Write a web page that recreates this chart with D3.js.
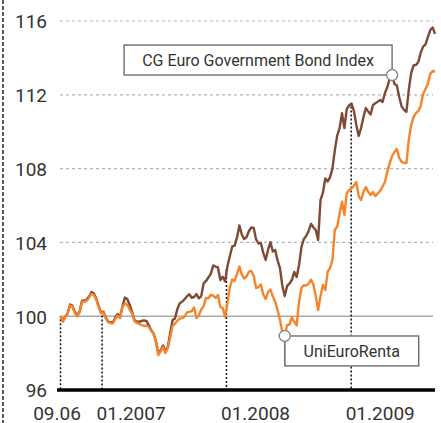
<!DOCTYPE html>
<html>
<head>
<meta charset="utf-8">
<script src="https://cdn.jsdelivr.net/npm/d3@7"></script>
<style>
html,body{margin:0;padding:0;background:#fff;}
svg{display:block;font-family:Roboto,"Noto Sans",sans-serif;}
</style>
</head>
<body>
<svg id="chart" width="441" height="423"></svg>
<script>
// ---- data (weekly, starting 01.09.2006) ----
const startDate = new Date(2006, 8, 1);
const cgIndex = [
100.0,99.74,99.96,100.17,100.63,100.57,100.23,100.04,100.25,100.84,
100.84,100.9,101.07,101.31,101.23,100.96,100.55,100.2,100.24,99.93,
99.71,99.67,99.67,99.93,100.11,99.96,100.55,101.01,100.93,100.61,
100.23,99.79,99.7,99.7,99.74,99.77,99.75,99.52,99.24,99.06,
98.66,98.0,98.15,98.41,98.08,98.33,99.09,99.79,99.88,100.39,
100.7,100.79,100.92,101.07,101.19,101.0,101.04,101.2,100.97,101.09,
101.78,101.91,102.1,102.29,102.75,102.69,102.64,101.96,102.14,101.88,
102.72,103.26,103.78,103.83,104.27,104.92,104.43,104.18,104.29,104.62,
104.81,104.78,104.16,103.94,103.97,103.43,103.05,103.59,104.02,103.51,
103.59,103.02,102.61,101.64,101.09,101.64,101.77,101.96,102.4,102.12,
102.78,103.75,104.18,104.35,104.62,105.01,104.82,104.67,104.13,106.3,
106.68,107.47,107.3,107.54,108.0,109.0,109.79,110.2,111.0,110.2,
111.23,111.42,111.53,111.12,110.36,109.77,110.2,110.8,111.28,111.1,
110.93,111.45,111.54,111.63,111.72,111.61,112.1,112.41,112.88,113.07,
112.59,112.5,111.88,111.37,111.18,111.07,112.26,113.18,113.59,113.62,
113.78,114.27,114.61,114.73,115.13,115.51,115.65,115.3
];
const uniEuroRenta = [
100.0,99.7,99.93,100.13,100.58,100.52,100.18,100.0,100.2,100.78,
100.78,100.84,101.0,101.22,101.15,100.9,100.5,100.15,100.2,99.88,
99.66,99.62,99.62,99.86,100.03,99.9,100.5,100.7,100.61,100.36,
100.15,99.74,99.62,99.58,99.52,99.47,99.5,99.41,99.22,99.06,
98.63,97.9,98.1,98.33,98.0,98.28,98.87,99.47,99.6,99.75,
99.88,99.88,99.98,100.2,100.23,100.28,100.47,99.9,100.04,100.36,
100.55,100.99,100.97,101.15,101.12,100.99,101.15,100.5,100.44,99.96,
100.72,101.58,101.99,101.91,102.29,102.69,102.26,102.04,102.15,102.42,
102.45,102.18,101.53,101.58,101.72,101.18,100.93,101.31,101.45,101.07,
100.8,100.34,99.79,99.14,98.93,99.52,99.55,99.93,99.7,99.5,
100.77,101.53,101.68,101.66,101.77,101.98,101.72,101.09,100.34,101.09,
101.69,101.42,102.42,102.61,103.05,104.67,104.86,105.54,106.21,105.49,
106.68,106.84,106.92,107.06,107.27,106.51,106.3,106.73,107.0,106.73,
106.57,106.73,106.51,106.65,106.79,107.03,107.27,107.82,108.3,108.68,
108.9,109.06,108.57,108.37,108.3,108.3,109.55,110.36,110.8,111.01,
111.12,111.39,112.04,112.31,112.59,113.13,113.29,113.25
];
const yTicks = [96, 100, 104, 108, 112, 116];
const xTickDates = [new Date(2006,8,1), new Date(2007,0,1), new Date(2008,0,1), new Date(2009,0,1)];
const xTickLabels = ["09.06", "01.2007", "01.2008", "01.2009"];
const seriesNames = ["CG Euro Government Bond Index", "UniEuroRenta"];

const dates = cgIndex.map((_, i) => d3.timeDay.offset(startDate, 7 * i));

// ---- chart ----
const svg = d3.select("#chart");
const x = d3.scaleTime().domain([new Date(2006,8,1), new Date(2009,8,1)]).range([60.5, 434]);
const y = d3.scaleLinear().domain([96, 116]).range([390, 21]);

// left dashed border
svg.append("line").attr("x1", 3).attr("x2", 3).attr("y1", 0).attr("y2", 423)
  .attr("stroke", "#555").attr("stroke-width", 2).attr("stroke-dasharray", "4,2");

// grid
const grid = svg.append("g");
yTicks.filter(v => v > 96).forEach(v => {
  grid.append("line").attr("x1", 60).attr("x2", 433)
    .attr("y1", y(v)).attr("y2", y(v))
    .attr("stroke", v === 100 ? "#aaa" : "#b4b4b4")
    .attr("stroke-width", v === 100 ? 1.5 : 1.2)
    .attr("stroke-dasharray", v === 100 ? null : "3,3");
});

// y labels
const yAxis = d3.axisLeft(y).tickValues(yTicks).tickSize(0).tickPadding(0);
const yg = svg.append("g").attr("transform", "translate(47,0)").call(yAxis);
yg.select(".domain").remove();
yg.selectAll("text").attr("font-size", 19).attr("fill", "#333")
  .attr("font-family", "Roboto, sans-serif").attr("dy", "0.36em");

// dotted vertical markers
const bisect = d3.bisector(d => d).center;
xTickDates.forEach(d => {
  const i = bisect(dates, d);
  svg.append("line").attr("x1", x(d)).attr("x2", x(d))
    .attr("y1", y(cgIndex[i]) + 3).attr("y2", 390)
    .attr("stroke", "#111").attr("stroke-width", 1.5).attr("stroke-dasharray", "2,2");
});

// lines
const line = d3.line().x((d, i) => x(dates[i])).y(d => y(d));
svg.append("path").datum(cgIndex).attr("d", line)
  .attr("fill", "none").attr("stroke", "#7e4a33").attr("stroke-width", 2.4)
  .attr("stroke-linejoin", "round");
svg.append("path").datum(uniEuroRenta).attr("d", line)
  .attr("fill", "none").attr("stroke", "#f5842a").attr("stroke-width", 2.4)
  .attr("stroke-linejoin", "round");

// x axis
svg.append("line").attr("x1", 57).attr("x2", 435).attr("y1", 390).attr("y2", 390)
  .attr("stroke", "#000").attr("stroke-width", 3.5);
const xAxis = d3.axisBottom(x).tickValues(xTickDates).tickSize(0).tickPadding(0)
  .tickFormat((d, i) => xTickLabels[i]);
const xg = svg.append("g").attr("transform", "translate(0,419.5)").call(xAxis);
xg.select(".domain").remove();
xg.selectAll("text").attr("font-size", 19).attr("fill", "#333")
  .attr("font-family", "Roboto, sans-serif")
  .attr("text-anchor", (d, i) => i === 0 ? "middle" : "start")
  .attr("dx", (d, i) => i === 0 ? -4 : -6).attr("dy", 0);

// annotations
function annotate(series, idx, name, side) {
  const cx = x(dates[idx]), cy = y(series[idx]);
  const h = 30;
  const w = side === "left" ? 268 : 134;
  const bx = side === "left" ? cx - w : cx;
  const by = side === "left" ? cy - h : cy;
  const g = svg.append("g");
  g.append("rect").attr("x", bx).attr("y", by).attr("width", w).attr("height", h)
    .attr("fill", "#fff").attr("stroke", "#555").attr("stroke-width", 1.2);
  g.append("text").text(name).attr("font-size", 16).attr("fill", "#333")
    .attr("font-family", "Roboto, sans-serif").attr("text-anchor", "middle")
    .attr("x", bx + w / 2).attr("y", by + h / 2).attr("dy", "0.36em");
  if (side === "left") {
    g.append("line").attr("x1", bx).attr("x2", cx).attr("y1", cy).attr("y2", cy)
      .attr("stroke", "#999").attr("stroke-width", 1.6);
  } else {
    g.append("line").attr("x1", cx).attr("x2", cx).attr("y1", cy).attr("y2", cy + h)
      .attr("stroke", "#777").attr("stroke-width", 1.4);
    g.append("line").attr("x1", cx).attr("x2", cx + w).attr("y1", cy).attr("y2", cy)
      .attr("stroke", "#999").attr("stroke-width", 1.4);
  }
  g.append("circle").attr("cx", cx).attr("cy", cy).attr("r", 5.5)
    .attr("fill", "#fff").attr("stroke", "#888").attr("stroke-width", 1.4);
}
annotate(cgIndex, 139, seriesNames[0], "left");
annotate(uniEuroRenta, 94, seriesNames[1], "right");
</script>
</body>
</html>
